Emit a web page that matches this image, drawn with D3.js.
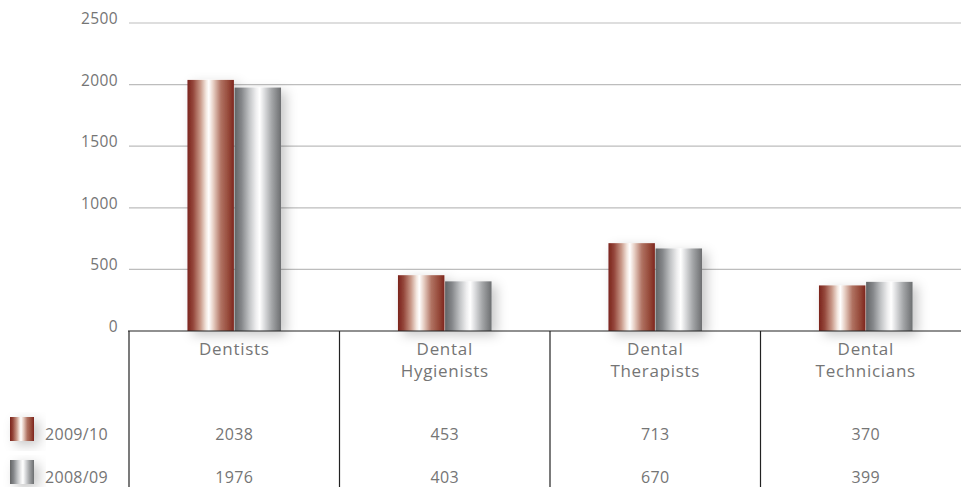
<!DOCTYPE html>
<html>
<head>
<meta charset="utf-8">
<script src="https://cdn.jsdelivr.net/npm/d3@7/dist/d3.min.js"></script>
<style>
  html, body { margin: 0; padding: 0; background: #fff; }
  svg { display: block; font-family: "Open Sans", "Noto Sans", sans-serif; }
</style>
</head>
<body>
<svg id="chart" width="961" height="487"></svg>
<script>
// Dental workforce by profession
const categories = [["Dentists"], ["Dental", "Hygienists"], ["Dental", "Therapists"], ["Dental", "Technicians"]];
const seriesNames = ["2009/10", "2008/09"];
const values2009 = [2038, 453, 713, 370];
const values2008 = [1976, 403, 670, 399];
const yTicks = [0, 500, 1000, 1500, 2000, 2500];

const series = [
  { name: seriesNames[0], values: values2009, grad: "gradRed" },
  { name: seriesNames[1], values: values2008, grad: "gradGrey" }
];

const W = 961, H = 487;
const plotLeft = 129, plotTop = 23, baseY = 331;
const svg = d3.select("#chart");
const textColor = "#757575";

const defs = svg.append("defs");
function gradient(id, stops) {
  const g = defs.append("linearGradient").attr("id", id)
    .attr("x1", "0%").attr("x2", "100%").attr("y1", "0%").attr("y2", "0%");
  stops.forEach(([o, c]) => g.append("stop").attr("offset", o).attr("stop-color", c));
}
gradient("gradRed", [
  ["0%", "#7a231c"], ["12%", "#94463a"], ["28%", "#c99a8a"], ["40%", "#f3e6de"],
  ["46%", "#ffffff"], ["56%", "#e6cdc2"], ["72%", "#b07262"], ["88%", "#964a3a"], ["100%", "#7e261e"]
]);
gradient("gradGrey", [
  ["0%", "#626466"], ["15%", "#85878a"], ["32%", "#c2c4c6"], ["46%", "#eeeeef"],
  ["54%", "#ffffff"], ["64%", "#dcdddf"], ["80%", "#a4a6a8"], ["100%", "#6c6e70"]
]);
const shadow = defs.append("filter").attr("id", "shadow")
  .attr("x", "-50%").attr("y", "-20%").attr("width", "200%").attr("height", "160%");
shadow.append("feDropShadow").attr("dx", 5).attr("dy", 4)
  .attr("stdDeviation", 6).attr("flood-color", "#000").attr("flood-opacity", 0.22);

const x0 = d3.scaleBand().domain(d3.range(categories.length))
  .range([plotLeft, plotLeft + 210.5 * categories.length]).padding(0);
const x1 = d3.scaleBand().domain(seriesNames)
  .range([0, x0.bandwidth()]).paddingInner(0.015).paddingOuter(1.24);
const y = d3.scaleLinear().domain([0, 2500]).range([baseY, plotTop]);

// gridlines
svg.append("g").selectAll("line").data(yTicks.filter(d => d > 0)).join("line")
  .attr("x1", plotLeft).attr("x2", W)
  .attr("y1", d => y(d)).attr("y2", d => y(d))
  .attr("stroke", "#bdbdbd").attr("stroke-width", 1.2);

// y tick labels
svg.append("g").selectAll("text").data(yTicks).join("text")
  .attr("x", 118).attr("y", d => y(d) + 1)
  .attr("text-anchor", "end").attr("font-size", 15.5).attr("letter-spacing", 0.4)
  .attr("fill", textColor)
  .text(d => d);

// bars
const barsG = svg.append("g").attr("filter", "url(#shadow)");
categories.forEach((c, i) => {
  series.forEach(s => {
    barsG.append("rect")
      .attr("x", x0(i) + x1(s.name))
      .attr("y", y(s.values[i]))
      .attr("width", x1.bandwidth())
      .attr("height", baseY - y(s.values[i]))
      .attr("fill", `url(#${s.grad})`);
  });
});

// baseline and table dividers
svg.append("line").attr("x1", 128).attr("x2", W).attr("y1", baseY).attr("y2", baseY)
  .attr("stroke", "#222").attr("stroke-width", 1.2);
svg.append("g").selectAll("line").data(d3.range(categories.length)).join("line")
  .attr("x1", i => x0(i)).attr("x2", i => x0(i))
  .attr("y1", baseY).attr("y2", H)
  .attr("stroke", "#222").attr("stroke-width", 1.2);

// category labels
categories.forEach((lines, i) => {
  const t = svg.append("text")
    .attr("x", x0(i) + x0.bandwidth() / 2)
    .attr("text-anchor", "middle").attr("font-size", 17).attr("letter-spacing", 0.7)
    .attr("fill", textColor);
  lines.forEach((l, k) => t.append("tspan")
    .attr("x", x0(i) + x0.bandwidth() / 2).attr("y", 355 + k * 22).text(l));
});

// data table rows with legend
const rowY = [440, 483];
series.forEach((s, r) => {
  svg.append("rect").attr("x", 10).attr("y", rowY[r] - 23)
    .attr("width", 24).attr("height", 24).attr("fill", `url(#${s.grad})`)
    .attr("filter", "url(#shadow)");
  svg.append("text").attr("x", 45).attr("y", rowY[r])
    .attr("font-size", 16).attr("letter-spacing", 0.3).attr("fill", textColor).text(s.name);
  svg.append("g").selectAll("text").data(s.values).join("text")
    .attr("x", (d, i) => x0(i) + x0.bandwidth() / 2)
    .attr("y", rowY[r])
    .attr("text-anchor", "middle").attr("font-size", 16).attr("letter-spacing", 0.3)
    .attr("fill", textColor)
    .text(d => d);
});
</script>
</body>
</html>
